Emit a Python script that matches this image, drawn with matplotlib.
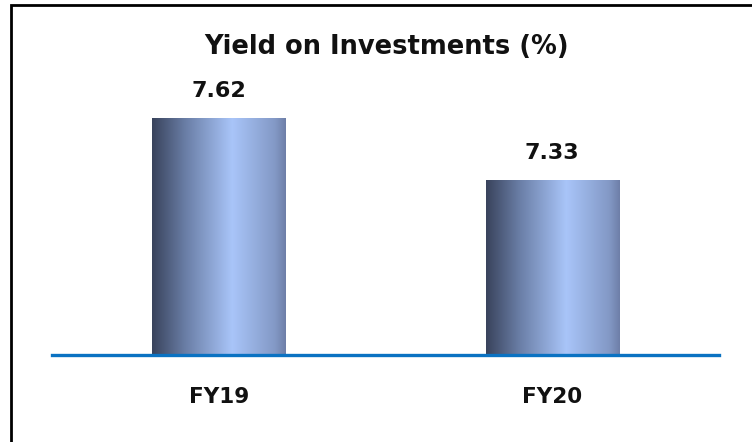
import numpy as np
import matplotlib
matplotlib.use("Agg")
import matplotlib.pyplot as plt
from matplotlib.colors import LinearSegmentedColormap
from matplotlib.patches import Rectangle

# data
categories = ["FY19", "FY20"]
yields = [7.62, 7.33]
title = "Yield on Investments (%)"

fig = plt.figure(figsize=(7.52, 4.42), dpi=100)
ax = fig.add_axes([52 / 752, 87 / 442, 667 / 752, 335 / 442])

# cylinder-ish shading across each bar
grad = LinearSegmentedColormap.from_list(
    "bar", [(0.0, "#39435c"), (0.25, "#6a7ea6"), (0.6, "#a9c5f9"), (0.92, "#8399c6"), (1.0, "#6e7fa8")]
)

x = np.arange(len(categories))
bars = ax.bar(x, yields, width=0.4, bottom=0, color="none", edgecolor="none", zorder=2)

for b, v in zip(bars, yields):
    x0 = b.get_x()
    w = b.get_width()
    im = ax.imshow(np.linspace(0, 1, 256).reshape(1, -1), cmap=grad, aspect="auto",
                   extent=[x0, x0 + w, 6.5, v], zorder=2)
    im.set_clip_path(b)
    ax.text(x0 + w / 2, v + 0.08, f"{v:.2f}", ha="center", va="bottom",
            fontsize=16, fontweight="bold", color="#111111")

ax.set_xlim(-0.5, 1.5)
ax.set_ylim(6.5, 8.085)
ax.axhline(6.5, color="#0a72c2", lw=2.4, zorder=3, clip_on=False)

for s in ax.spines.values():
    s.set_visible(False)
ax.set_yticks([])
ax.set_xticks(x)
ax.set_xticklabels(categories, fontsize=15.5, fontweight="bold", color="#111111")
ax.tick_params(axis="x", length=0, pad=23)

fig.text(387 / 752, 1 - 47 / 442, title, ha="center", va="center",
         fontsize=18.5, fontweight="bold", color="#111111")

# frame, cut off at right and bottom
fig.add_artist(Rectangle((11 / 752, -0.1), 1.2, 1 - 5 / 442 + 0.1, transform=fig.transFigure,
                         fill=False, edgecolor="black", lw=2))

fig.savefig("out.png", dpi=100)
